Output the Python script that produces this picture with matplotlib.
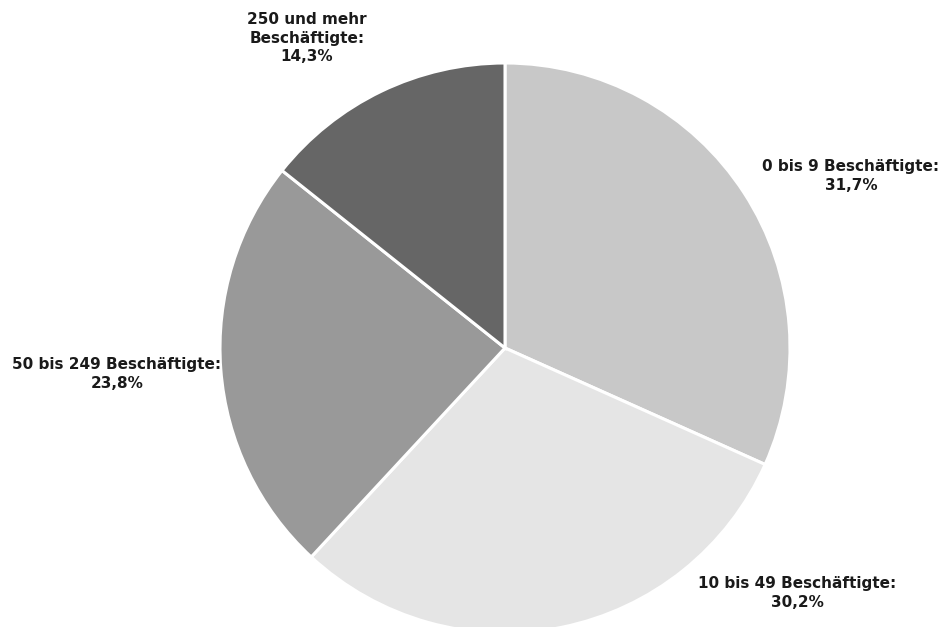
import matplotlib.pyplot as plt

categories = ["0 bis 9 Beschäftigte", "10 bis 49 Beschäftigte",
              "50 bis 249 Beschäftigte", "250 und mehr\nBeschäftigte"]
shares = [31.7, 30.2, 23.8, 14.3]
colors = ["#c8c8c8", "#e5e5e5", "#999999", "#666666"]

# label anchor points in pixel space (x, y from top)
label_pos = [(851, 176), (797, 593), (117, 374), (307, 38)]

W, H = 947, 627
fig = plt.figure(figsize=(W / 100, H / 100), dpi=100)
ax = fig.add_axes([0, 0, 1, 1])

ax.pie(shares, colors=colors, startangle=90, counterclock=False,
       center=(505, H - 348), radius=285, frame=True,
       wedgeprops=dict(edgecolor="white", linewidth=2.2))
ax.set_xlim(0, W)
ax.set_ylim(0, H)
ax.axis("off")

for cat, val, (px, py) in zip(categories, shares, label_pos):
    txt = f"{cat}:\n{val:.1f}%".replace(".", ",")
    ax.text(px, H - py, txt, ha="center", va="center", fontsize=11,
            fontweight="bold", color="#1a1a1a", linespacing=1.3,
            family="DejaVu Sans")

fig.savefig("out.png", dpi=100)
